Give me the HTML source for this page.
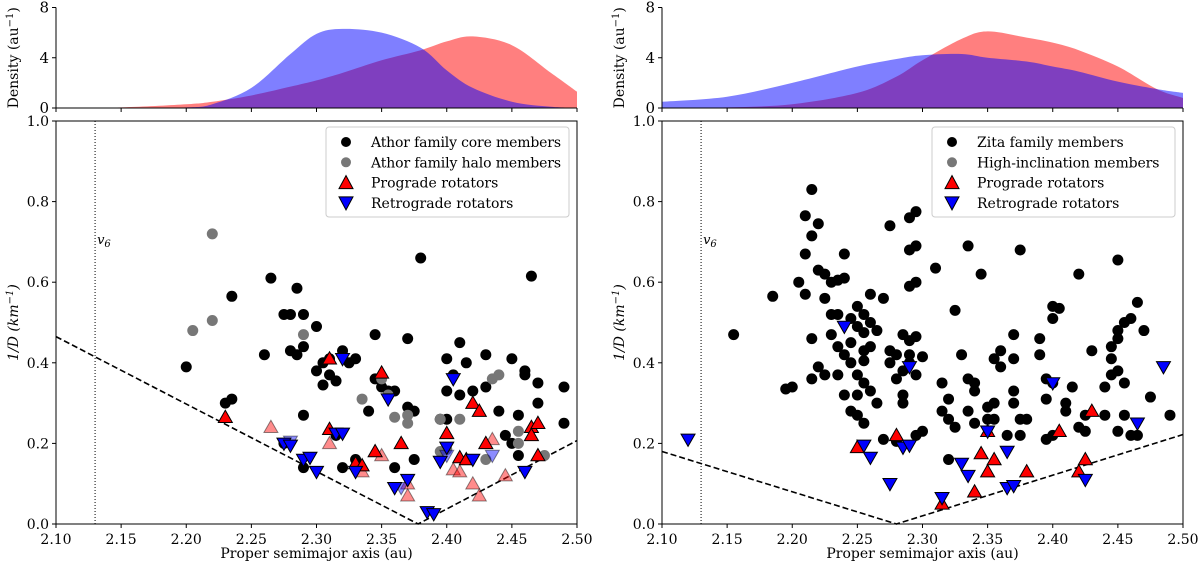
<!DOCTYPE html>
<html><head><meta charset="utf-8"><style>
body{margin:0;background:#fff}
svg text{font-family:"DejaVu Serif","Liberation Serif",serif;fill:#000}
</style></head><body>
<svg id="fig" width="1200" height="569" viewBox="0 0 1200 569" xmlns="http://www.w3.org/2000/svg"></svg>
<script>
// ---- shared tick data ----
const xTicks=[2.10,2.15,2.20,2.25,2.30,2.35,2.40,2.45,2.50];
const yTicks=[0.0,0.2,0.4,0.6,0.8,1.0];
const densTicks=[0,4,8];
// ---- left panel data (Athor) ----
const L_densX=[2.10,2.15,2.20,2.22,2.25,2.28,2.30,2.32,2.35,2.38,2.40,2.42,2.45,2.48,2.50];
const L_densRed=[0,0.05,0.3,0.5,1.0,1.7,2.2,2.8,3.8,4.6,5.3,5.7,5.0,2.8,1.3];
const L_densBlue=[0,0,0.05,0.3,1.6,4.3,5.9,6.3,6.0,4.8,3.0,1.6,0.5,0.1,0.03];
const L_core=[[2.20,0.39],[2.23,0.30],[2.235,0.31],[2.235,0.565],[2.265,0.61],[2.28,0.52],[2.275,0.52],[2.285,0.585],[2.29,0.52],[2.29,0.44],[2.26,0.42],[2.28,0.43],[2.30,0.49],[2.285,0.42],[2.29,0.27],[2.305,0.40],[2.31,0.41],[2.30,0.38],[2.305,0.345],[2.315,0.355],[2.33,0.41],[2.31,0.37],[2.325,0.40],[2.32,0.43],[2.34,0.28],[2.345,0.47],[2.35,0.34],[2.355,0.33],[2.36,0.33],[2.345,0.36],[2.37,0.29],[2.375,0.28],[2.37,0.46],[2.38,0.66],[2.40,0.41],[2.405,0.37],[2.41,0.45],[2.415,0.40],[2.43,0.42],[2.43,0.34],[2.46,0.37],[2.45,0.41],[2.46,0.38],[2.47,0.35],[2.49,0.34],[2.465,0.615],[2.455,0.27],[2.44,0.28],[2.445,0.22],[2.45,0.20],[2.455,0.17],[2.49,0.25],[2.47,0.30],[2.395,0.26],[2.40,0.26],[2.41,0.32],[2.42,0.33],[2.40,0.33],[2.36,0.14],[2.32,0.14],[2.375,0.16],[2.33,0.16],[2.315,0.22],[2.29,0.14],[2.275,0.20]];
const L_halo=[[2.205,0.48],[2.22,0.72],[2.22,0.505],[2.29,0.47],[2.35,0.36],[2.355,0.32],[2.335,0.31],[2.36,0.265],[2.37,0.27],[2.37,0.25],[2.395,0.18],[2.395,0.26],[2.41,0.26],[2.43,0.16],[2.435,0.36],[2.44,0.37],[2.455,0.23],[2.455,0.20],[2.475,0.17],[2.40,0.185]];
const L_pro=[[2.23,0.265],[2.31,0.41],[2.35,0.375],[2.31,0.235],[2.33,0.15],[2.335,0.145],[2.345,0.18],[2.365,0.20],[2.40,0.225],[2.41,0.165],[2.415,0.16],[2.42,0.30],[2.425,0.28],[2.43,0.20],[2.465,0.24],[2.465,0.22],[2.47,0.17],[2.47,0.25]];
const L_proFaint=[[2.265,0.24],[2.335,0.13],[2.35,0.17],[2.37,0.10],[2.37,0.07],[2.405,0.135],[2.41,0.13],[2.42,0.10],[2.425,0.07],[2.435,0.21],[2.445,0.12],[2.31,0.20]];
const L_retro=[[2.275,0.20],[2.28,0.195],[2.29,0.16],[2.295,0.165],[2.30,0.13],[2.315,0.225],[2.32,0.225],[2.33,0.13],[2.32,0.41],[2.355,0.31],[2.36,0.09],[2.37,0.11],[2.385,0.03],[2.39,0.025],[2.395,0.155],[2.40,0.19],[2.405,0.36],[2.42,0.16],[2.46,0.13]];
const L_retroFaint=[[2.28,0.205],[2.365,0.09],[2.40,0.17],[2.435,0.17]];
const L_vline=[[2.10,0.465],[2.378,0],[2.50,0.207]];
// ---- right panel data (Zita) ----
const R_densX=[2.10,2.15,2.20,2.25,2.28,2.30,2.33,2.35,2.38,2.40,2.42,2.45,2.48,2.50];
const R_densRed=[0,0.05,0.3,1.2,2.5,3.8,5.5,6.1,5.6,5.2,4.6,3.3,1.5,0.8];
const R_densBlue=[0.5,0.9,2.0,3.3,3.9,4.2,4.3,4.0,3.7,3.3,2.9,2.1,1.5,1.2];
const R_core=[[2.155,0.47],[2.185,0.565],[2.195,0.335],[2.20,0.34],[2.205,0.60],[2.215,0.83],[2.21,0.765],[2.22,0.745],[2.215,0.715],[2.21,0.67],[2.22,0.63],[2.225,0.62],[2.23,0.60],[2.235,0.605],[2.24,0.67],[2.24,0.61],[2.225,0.56],[2.21,0.57],[2.23,0.52],[2.235,0.52],[2.245,0.51],[2.25,0.54],[2.25,0.49],[2.255,0.475],[2.255,0.52],[2.26,0.57],[2.245,0.45],[2.24,0.42],[2.235,0.44],[2.245,0.40],[2.255,0.405],[2.255,0.43],[2.26,0.44],[2.25,0.37],[2.255,0.35],[2.26,0.33],[2.265,0.30],[2.25,0.32],[2.24,0.32],[2.245,0.28],[2.25,0.27],[2.255,0.25],[2.235,0.37],[2.225,0.37],[2.22,0.39],[2.215,0.46],[2.23,0.47],[2.215,0.36],[2.275,0.74],[2.29,0.76],[2.295,0.775],[2.29,0.68],[2.295,0.69],[2.27,0.56],[2.265,0.48],[2.26,0.50],[2.285,0.47],[2.29,0.455],[2.295,0.465],[2.29,0.42],[2.29,0.59],[2.295,0.60],[2.275,0.43],[2.275,0.40],[2.28,0.42],[2.285,0.38],[2.28,0.36],[2.285,0.32],[2.285,0.30],[2.29,0.40],[2.30,0.415],[2.295,0.37],[2.27,0.21],[2.28,0.205],[2.295,0.22],[2.30,0.23],[2.31,0.635],[2.315,0.35],[2.32,0.31],[2.325,0.24],[2.32,0.16],[2.325,0.53],[2.33,0.42],[2.335,0.36],[2.34,0.35],[2.335,0.69],[2.345,0.62],[2.34,0.33],[2.35,0.29],[2.35,0.26],[2.335,0.28],[2.32,0.26],[2.315,0.28],[2.34,0.25],[2.355,0.41],[2.36,0.43],[2.36,0.39],[2.355,0.30],[2.355,0.26],[2.365,0.22],[2.37,0.41],[2.37,0.47],[2.375,0.68],[2.37,0.33],[2.37,0.30],[2.375,0.26],[2.38,0.26],[2.375,0.22],[2.39,0.46],[2.40,0.54],[2.405,0.535],[2.40,0.51],[2.39,0.42],[2.395,0.36],[2.40,0.35],[2.395,0.31],[2.41,0.30],[2.41,0.28],[2.395,0.21],[2.40,0.22],[2.415,0.34],[2.42,0.62],[2.42,0.24],[2.425,0.23],[2.425,0.27],[2.43,0.43],[2.44,0.34],[2.44,0.27],[2.445,0.37],[2.445,0.41],[2.45,0.46],[2.445,0.44],[2.45,0.48],[2.455,0.50],[2.46,0.51],[2.465,0.55],[2.47,0.48],[2.45,0.655],[2.45,0.38],[2.455,0.35],[2.455,0.27],[2.46,0.22],[2.465,0.22],[2.475,0.315],[2.49,0.27],[2.45,0.23]];
const R_halo=[];
const R_pro=[[2.25,0.19],[2.28,0.22],[2.315,0.05],[2.34,0.08],[2.345,0.175],[2.35,0.13],[2.35,0.23],[2.355,0.16],[2.38,0.13],[2.405,0.23],[2.42,0.13],[2.425,0.16],[2.43,0.28]];
const R_proFaint=[];
const R_retro=[[2.12,0.21],[2.24,0.49],[2.255,0.195],[2.26,0.165],[2.275,0.10],[2.285,0.19],[2.29,0.195],[2.29,0.39],[2.315,0.065],[2.33,0.15],[2.335,0.12],[2.35,0.23],[2.365,0.18],[2.365,0.09],[2.37,0.095],[2.40,0.35],[2.425,0.11],[2.465,0.25],[2.485,0.39]];
const R_retroFaint=[];
const R_vline=[[2.10,0.18],[2.28,0],[2.50,0.222]];
const L_legend=["Athor family core members","Athor family halo members","Prograde rotators","Retrograde rotators"];
const R_legend=["Zita family members","High-inclination members","Prograde rotators","Retrograde rotators"];

const NS="http://www.w3.org/2000/svg";
const svg=document.getElementById('fig');
function mk(tag,attrs,parent){const e=document.createElementNS(NS,tag);for(const k in attrs)e.setAttribute(k,attrs[k]);(parent||svg).appendChild(e);return e;}

function panel(id,x0,x1,D){
  const g=mk('g',{});
  
  
  const sx=v=>x0+(v-2.10)/0.40*(x1-x0);
  const dTop=7.5,dBot=108,mTop=121,mBot=524;
  const sd=v=>dBot-(v/8)*(dBot-dTop);
  const sy=v=>mBot-v*(mBot-mTop);
  const area=(xs,ys,fill,name)=>{
    let d='M'+sx(xs[0])+','+sd(0);
    const P=xs.map((x,i)=>[sx(x),sd(ys[i])]);
    d+=' L'+P[0][0]+','+P[0][1];
    for(let i=0;i<P.length-1;i++){const p0=P[Math.max(0,i-1)],p1=P[i],p2=P[i+1],p3=P[Math.min(P.length-1,i+2)];
      d+=' C'+(p1[0]+(p2[0]-p0[0])/6)+','+(p1[1]+(p2[1]-p0[1])/6)+' '+(p2[0]-(p3[0]-p1[0])/6)+','+(p2[1]-(p3[1]-p1[1])/6)+' '+p2[0]+','+p2[1];}
    d+=' L'+sx(xs[xs.length-1])+','+sd(0)+' Z';
    const p=mk('path',{d:d,fill:fill,'fill-opacity':0.5},g);
    
    
  };
  area(D.densX,D.densRed,'#ff0000','density-prograde');
  area(D.densX,D.densBlue,'#0000ff','density-retrograde');
  mk('line',{x1:x0,y1:dTop,x2:x0,y2:dBot,stroke:'#000','stroke-width':1},g);
  mk('line',{x1:x0,y1:dBot,x2:x1,y2:dBot,stroke:'#000','stroke-width':1},g);
  densTicks.forEach(t=>{mk('line',{x1:x0-4,y1:sd(t),x2:x0,y2:sd(t),stroke:'#000'},g);
    const tx=mk('text',{x:x0-7,y:sd(t)+5,'font-size':15,'text-anchor':'end'},g);tx.textContent=t;
    
    });
  xTicks.forEach(t=>mk('line',{x1:sx(t),y1:dBot,x2:sx(t),y2:dBot+4,stroke:'#000'},g));
  const dl=mk('text',{transform:`translate(${x0-38},${(dTop+dBot)/2}) rotate(-90)`,'font-size':14,'text-anchor':'middle'},g);
  dl.innerHTML='Density (au<tspan dy="-5" font-size="10">−1</tspan><tspan dy="5">)</tspan>';
  
  
  mk('rect',{x:x0,y:mTop,width:x1-x0,height:mBot-mTop,fill:'none',stroke:'#000','stroke-width':1},g);
  mk('line',{x1:sx(2.13),y1:mTop,x2:sx(2.13),y2:mBot,stroke:'#000','stroke-width':1,'stroke-dasharray':'1,2'},g);
  const v6=mk('text',{x:sx(2.13)+2,y:sy(0.71)+6,'font-size':13,'font-style':'italic'},g);
  v6.innerHTML='v<tspan dy="3" font-size="10">6</tspan>';
  
  
  const vs=mk('polyline',{points:D.vline.map(p=>sx(p[0])+','+sy(p[1])).join(' '),fill:'none',stroke:'#000','stroke-width':1.6,'stroke-dasharray':'6,3'},g);
  
  
  xTicks.forEach(t=>{mk('line',{x1:sx(t),y1:mBot,x2:sx(t),y2:mBot+4,stroke:'#000'},g);
    const tx=mk('text',{x:sx(t),y:mBot+20,'font-size':14,'text-anchor':'middle'},g);tx.textContent=t.toFixed(2);
    
    });
  yTicks.forEach(t=>{mk('line',{x1:x0-4,y1:sy(t),x2:x0,y2:sy(t),stroke:'#000'},g);
    const tx=mk('text',{x:x0-7,y:sy(t)+5,'font-size':14,'text-anchor':'end'},g);tx.textContent=t.toFixed(1);
    
    });
  const xl=mk('text',{x:(x0+x1)/2,y:558,'font-size':14,'text-anchor':'middle'},g);xl.textContent='Proper semimajor axis (au)';
  
  
  const yl=mk('text',{transform:`translate(${x0-38},${(mTop+mBot)/2}) rotate(-90)`,'font-size':14,'text-anchor':'middle','font-style':'italic'},g);
  yl.innerHTML='1/D (km<tspan dy="-5" font-size="10">−1</tspan><tspan dy="5">)</tspan>';
  
  
  const circ=(arr,fill,name)=>arr.forEach(p=>{const c=mk('circle',{cx:sx(p[0]),cy:sy(p[1]),r:5.5,fill:fill},g);
    
    });
  const tri=(arr,fill,up,op,name)=>arr.forEach(p=>{const x=sx(p[0]),y=sy(p[1]),s=7;
    const pts=up?`${x},${y-s} ${x-s},${y+s*0.75} ${x+s},${y+s*0.75}`:`${x},${y+s} ${x-s},${y-s*0.75} ${x+s},${y-s*0.75}`;
    const t=mk('polygon',{points:pts,fill:fill,stroke:'#000','stroke-width':1,'fill-opacity':op,'stroke-opacity':op},g);
    
    });
  circ(D.core,'#000','core-member-point');
  circ(D.halo,'#777','halo-member-point');
  tri(D.proFaint,'#ff0000',true,0.45,'prograde-faint-point');
  tri(D.retroFaint,'#0000ff',false,0.45,'retrograde-faint-point');
  tri(D.pro,'#ff0000',true,1,'prograde-point');
  tri(D.retro,'#0000ff',false,1,'retrograde-point');
  const lx=x1-251,ly=127;
  const lg=mk('g',{},g);
  
  
  mk('rect',{x:lx,y:ly,width:243,height:90,rx:3,fill:'#fff','fill-opacity':0.8,stroke:'#ccc'},lg);
  D.legend.forEach((s,i)=>{const yy=ly+15+i*20.3;const mx=lx+20;
    if(i==0)mk('circle',{cx:mx,cy:yy,r:5,fill:'#000'},lg);
    if(i==1)mk('circle',{cx:mx,cy:yy,r:5,fill:'#777'},lg);
    if(i==2)mk('polygon',{points:`${mx},${yy-7} ${mx-7},${yy+6} ${mx+7},${yy+6}`,fill:'#f00',stroke:'#000'},lg);
    if(i==3)mk('polygon',{points:`${mx},${yy+7} ${mx-7},${yy-6} ${mx+7},${yy-6}`,fill:'#00f',stroke:'#000'},lg);
    const t=mk('text',{x:lx+45,y:yy+5,'font-size':14,textLength:s.length>20?Math.min(190,s.length*7.6):null},lg);
    if(t.getAttribute('textLength')==='null')t.removeAttribute('textLength');
    t.textContent=s;
    
    });
}
panel('athor',56,577,{densX:L_densX,densRed:L_densRed,densBlue:L_densBlue,core:L_core,halo:L_halo,pro:L_pro,proFaint:L_proFaint,retro:L_retro,retroFaint:L_retroFaint,vline:L_vline,legend:L_legend});
panel('zita',662,1183,{densX:R_densX,densRed:R_densRed,densBlue:R_densBlue,core:R_core,halo:R_halo,pro:R_pro,proFaint:R_proFaint,retro:R_retro,retroFaint:R_retroFaint,vline:R_vline,legend:R_legend});
</script>
</body></html>
